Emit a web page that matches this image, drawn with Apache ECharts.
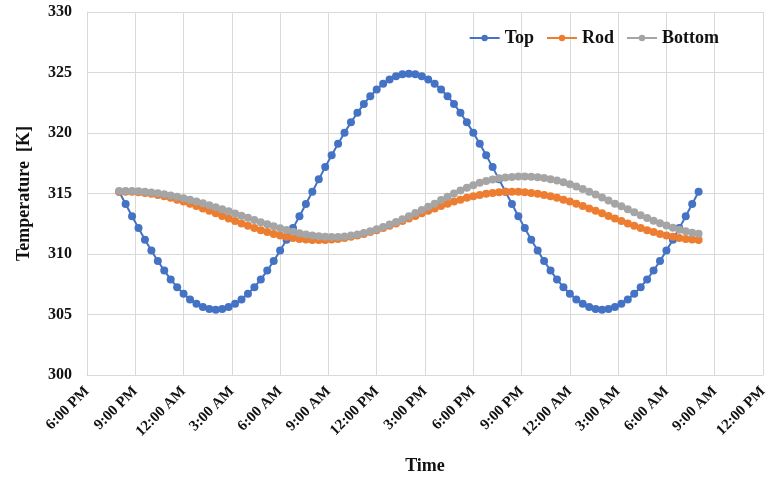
<!DOCTYPE html>
<html>
<head>
<meta charset="utf-8">
<title>Temperature over time</title>
<script src="https://cdn.jsdelivr.net/npm/echarts@6/dist/echarts.min.js"></script>
<style>
  html, body { margin: 0; padding: 0; background: #ffffff; }
  #chart { width: 771px; height: 480px; }
</style>
</head>
<body>
<div id="chart"></div>
<script>
// Axis tick labels, one every 3 hours starting at 6:00 PM
const timeTickLabels = ['6:00 PM', '9:00 PM', '12:00 AM', '3:00 AM', '6:00 AM', '9:00 AM', '12:00 PM',
  '3:00 PM', '6:00 PM', '9:00 PM', '12:00 AM', '3:00 AM', '6:00 AM', '9:00 AM', '12:00 PM'];

// Samples are taken every 24 minutes, starting 2 h after the first tick (8:00 PM)
const sampleStartHour = 2;
const sampleStepHours = 0.4;

// Temperatures [K]
const topTemp = [315.15, 314.13, 313.12, 312.14, 311.18, 310.28, 309.42, 308.63, 307.90, 307.26, 306.71, 306.24, 305.88, 305.61, 305.45, 305.40,
  305.45, 305.61, 305.88, 306.24, 306.71, 307.26, 307.90, 308.63, 309.42, 310.28, 311.18, 312.14, 313.12, 314.13,
  315.15,
  316.17, 317.18, 318.16, 319.12, 320.03, 320.88, 321.67, 322.40, 323.04, 323.59, 324.06, 324.42, 324.69, 324.85,
  324.90,
  324.85, 324.69, 324.42, 324.06, 323.59, 323.04, 322.40, 321.67, 320.88, 320.03, 319.12, 318.16, 317.18, 316.17,
  315.15,
  314.13, 313.12, 312.14, 311.18, 310.28, 309.42, 308.63, 307.90, 307.26, 306.71, 306.24, 305.88, 305.61, 305.45,
  305.40,
  305.45, 305.61, 305.88, 306.24, 306.71, 307.26, 307.90, 308.63, 309.42, 310.28, 311.18, 312.14, 313.12, 314.13,
  315.15];

const rodTemp = [315.14, 315.15, 315.14, 315.11, 315.05, 314.98, 314.88, 314.77, 314.64, 314.49, 314.33, 314.15, 313.96, 313.77, 313.57, 313.36,
  313.15, 312.94, 312.73, 312.53, 312.34, 312.15, 311.97, 311.81, 311.66, 311.53, 311.42, 311.32, 311.25, 311.19, 311.16,
  311.15, 311.16, 311.19, 311.25, 311.32, 311.42, 311.53, 311.66, 311.81, 311.97, 312.15, 312.34, 312.53, 312.73, 312.94,
  313.15, 313.36, 313.57, 313.77, 313.96, 314.15, 314.33, 314.49, 314.64, 314.77, 314.88, 314.98, 315.05, 315.11, 315.14,
  315.15, 315.14, 315.11, 315.05, 314.98, 314.88, 314.77, 314.64, 314.49, 314.33, 314.15, 313.96, 313.77, 313.57, 313.36,
  313.15, 312.94, 312.73, 312.53, 312.34, 312.15, 311.97, 311.81, 311.66, 311.53, 311.42, 311.32, 311.25, 311.19, 311.16];

const bottomTemp = [315.20, 315.21, 315.21, 315.19, 315.15, 315.09, 315.02, 314.94, 314.84, 314.73, 314.61, 314.48, 314.34, 314.19, 314.03, 313.87,
  313.70, 313.53, 313.35, 313.17, 312.99, 312.81, 312.63, 312.46, 312.29, 312.13, 311.98, 311.84, 311.72, 311.62, 311.53,
  311.47, 311.43, 311.41,
  311.41, 311.45, 311.52, 311.62, 311.73, 311.88, 312.04, 312.23, 312.43, 312.65, 312.88, 313.13, 313.38, 313.64, 313.90, 314.16,
  314.47, 314.74, 315.00, 315.25, 315.48, 315.69, 315.88, 316.03, 316.16, 316.26, 316.33, 316.37, 316.40, 316.40,
  316.39, 316.35, 316.28, 316.18, 316.07, 315.92, 315.76, 315.57, 315.37, 315.15, 314.92, 314.67, 314.42, 314.16,
  313.95, 313.70, 313.45, 313.21, 312.97, 312.75, 312.54, 312.35, 312.17, 312.01, 311.87, 311.76, 311.67];

const seriesNames = ['Top', 'Rod', 'Bottom'];
const seriesColors = ['#4472C4', '#ED7D31', '#A5A5A5'];

function toPairs(values) {
  return values.map((v, i) => [sampleStartHour + i * sampleStepHours, v]);
}

const serif = 'Liberation Serif, Times New Roman, serif';
const gridColor = '#d9d9d9';
const ink = '#111111';

const chart = echarts.init(document.getElementById('chart'), null, { renderer: 'canvas' });

chart.setOption({
  animation: false,
  backgroundColor: '#ffffff',
  color: seriesColors,
  grid: { left: 87, right: 8, top: 12, bottom: 105, containLabel: false },
  legend: {
    data: seriesNames,
    right: 47,
    top: 24,
    itemWidth: 30,
    itemHeight: 8,
    itemGap: 12,
    textStyle: { fontFamily: serif, fontWeight: 'bold', fontSize: 18, color: ink }
  },
  xAxis: {
    type: 'value',
    min: 0,
    max: 42,
    interval: 3,
    name: 'Time',
    nameLocation: 'middle',
    nameGap: 82,
    nameTextStyle: { fontFamily: serif, fontWeight: 'bold', fontSize: 18, color: ink },
    axisLine: { show: true, lineStyle: { color: gridColor, width: 1 } },
    axisTick: { show: false },
    splitLine: { show: true, lineStyle: { color: gridColor, width: 1 } },
    axisLabel: {
      rotate: 45,
      margin: 14,
      fontFamily: serif,
      fontWeight: 'bold',
      fontSize: 15,
      color: ink,
      formatter: v => timeTickLabels[Math.round(v / 3)] || ''
    }
  },
  yAxis: {
    type: 'value',
    min: 300,
    max: 330,
    interval: 5,
    name: 'Temperature  [K]',
    nameLocation: 'middle',
    nameGap: 54,
    nameTextStyle: { fontFamily: serif, fontWeight: 'bold', fontSize: 18, color: ink },
    axisLine: { show: true, lineStyle: { color: gridColor, width: 1 } },
    axisTick: { show: false },
    splitLine: { show: true, lineStyle: { color: gridColor, width: 1 } },
    axisLabel: { margin: 15, fontFamily: serif, fontWeight: 'bold', fontSize: 16, color: ink }
  },
  series: [topTemp, rodTemp, bottomTemp].map((vals, i) => ({
    name: seriesNames[i],
    type: 'line',
    data: toPairs(vals),
    symbol: 'circle',
    symbolSize: 8,
    showSymbol: true,
    lineStyle: { width: 2, color: seriesColors[i] },
    itemStyle: { color: seriesColors[i] }
  }))
});
</script>
</body>
</html>
